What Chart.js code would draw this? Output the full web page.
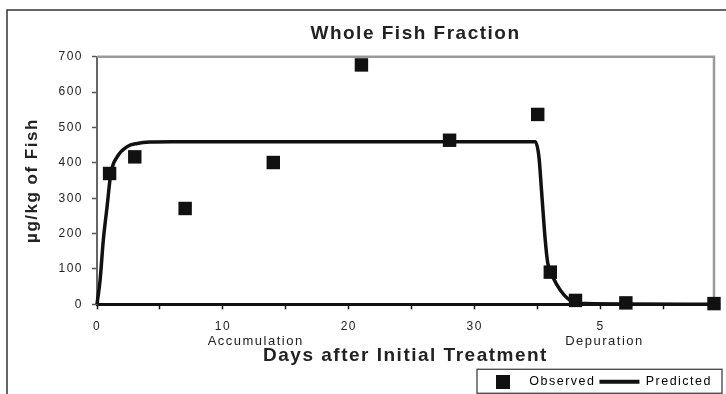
<!DOCTYPE html>
<html>
<head>
<meta charset="utf-8">
<script src="https://cdn.jsdelivr.net/npm/chart.js@4.4.0/dist/chart.umd.min.js"></script>
<style>
html, body { margin: 0; padding: 0; background: #fff; }
</style>
</head>
<body>
<canvas id="fishChart" width="726" height="394"></canvas>
<script>
// observed residues
const obsDays = [1, 3, 7, 14, 21, 28, 35, 36, 38, 42, 49];
const obsValues = [370, 417, 271, 401, 677, 464, 537, 91, 11, 4, 2];

// predicted curve
const predDays = [0, 0.25, 0.5, 0.8, 1.1, 1.6, 2.4, 3.2, 4.2, 6, 34.8, 35.1, 35.3, 35.6, 35.8, 36.2, 36.8, 37.6, 38.9, 42, 49];
const predValues = [0, 70, 181, 276, 370, 417, 446, 455, 459, 460, 460, 416, 323, 181, 116, 77, 40, 11, 2, 1, 0];

// x axis ticks and what is printed under them (day 40 = depuration day 5)
const xTicks = [0, 5, 10, 15, 20, 25, 30, 35, 40, 45];
const xTickText = ['0', '', '10', '', '20', '', '30', '', '5', ''];

// phase names under the axis
const phaseNames = ['Accumulation', 'Depuration'];
const phaseAt = [12.6, 40.3];

const FONT = "'Liberation Sans', Arial, sans-serif";
Chart.defaults.font.family = FONT;
Chart.defaults.color = '#222';

// little black square for the legend
const sq = document.createElement('canvas');
sq.width = 14; sq.height = 14;
let sctx = sq.getContext('2d');
sctx.fillStyle = '#111';
sctx.fillRect(0, 0, 14, 14);

const extras = {
    id: 'extras',
    beforeUpdate(chart) {
        chart.ctx.letterSpacing = '1.5px';
    },
    afterLayout(chart) {
        // title sits a bit right of the plot centre in the original
        chart.titleBlock.left += 10;
        chart.titleBlock.right += 10;
        // legend box a little lower / further right
        chart.legend.left += 2;
        chart.legend.right += 2;
        chart.legend.top += 4;
        chart.legend.bottom += 4;
    },
    beforeDraw(chart) {
        let ctx = chart.ctx;
        ctx.save();
        ctx.strokeStyle = '#333';
        ctx.lineWidth = 1.5;
        ctx.beginPath();
        ctx.moveTo(7, 400);
        ctx.lineTo(7, 10);
        ctx.lineTo(730, 10);
        ctx.stroke();
        ctx.restore();
    },
    beforeDatasetsDraw(chart) {
        let a = chart.chartArea;
        let ctx = chart.ctx;
        ctx.save();
        ctx.strokeStyle = '#999';
        ctx.lineWidth = 2.5;
        ctx.beginPath();
        ctx.moveTo(a.left, a.top);
        ctx.lineTo(a.right, a.top);
        ctx.lineTo(a.right, a.bottom);
        ctx.stroke();
        ctx.restore();
    },
    afterDraw(chart) {
        let ctx = chart.ctx;
        let x = chart.scales.x;
        ctx.save();
        ctx.fillStyle = '#222';
        ctx.font = '13px ' + FONT;
        ctx.textAlign = 'center';
        ctx.textBaseline = 'middle';
        phaseNames.forEach((name, i) => {
            ctx.fillText(name, x.getPixelForValue(phaseAt[i]), 341);
        });
        // box round the legend
        let hb = chart.legend.legendHitBoxes;
        if (hb.length) {
            let first = hb[0], last = hb[hb.length - 1];
            let cy = first.top + first.height / 2;
            ctx.strokeStyle = '#333';
            ctx.lineWidth = 1.2;
            ctx.strokeRect(first.left - 6, cy - 12.5, last.left + last.width + 10 - (first.left - 6), 24);
        }
        ctx.restore();
    }
};

const data = {
    datasets: [
        {
            type: 'scatter',
            label: 'Observed',
            data: obsDays.map((d, i) => ({ x: d, y: obsValues[i] })),
            pointStyle: 'rect',
            pointRadius: 9.5,
            pointHoverRadius: 9.5,
            backgroundColor: '#111',
            borderColor: '#111',
            borderWidth: 0,
            clip: false,
        },
        {
            type: 'line',
            label: 'Predicted',
            data: predDays.map((d, i) => ({ x: d, y: predValues[i] })),
            borderColor: '#111',
            borderWidth: 3.5,
            pointRadius: 0,
            cubicInterpolationMode: 'monotone',
            fill: false,
            clip: false,
        },
    ],
};

const config = {
    data: data,
    plugins: [extras],
    options: {
        responsive: false,
        animation: false,
        devicePixelRatio: 1,
        layout: { padding: { left: 12, right: 12, top: 20, bottom: 0 } },
        plugins: {
            title: {
                display: true,
                text: 'Whole Fish Fraction',
                fullSize: false,
                color: '#222',
                font: { size: 19, weight: 'bold' },
                padding: { top: 2, bottom: 12 },
            },
            legend: {
                position: 'bottom',
                align: 'end',
                labels: {
                    usePointStyle: true,
                    pointStyleWidth: 40,
                    padding: 4,
                    color: '#222',
                    font: { size: 12.5 },
                    generateLabels: () => [
                        { text: 'Observed', pointStyle: sq, fillStyle: '#111', strokeStyle: '#111', lineWidth: 0, datasetIndex: 0 },
                        { text: 'Predicted', pointStyle: 'line', fillStyle: '#111', strokeStyle: '#111', lineWidth: 4, datasetIndex: 1 },
                    ],
                },
            },
            tooltip: { enabled: false },
        },
        scales: {
            x: {
                type: 'linear',
                min: 0,
                max: 49,
                afterBuildTicks: (scale) => {
                    scale.ticks = xTicks.map((v) => ({ value: v }));
                },
                ticks: {
                    autoSkip: false,
                    maxRotation: 0,
                    padding: 10,
                    font: { size: 12 },
                    color: '#222',
                    callback: (v) => {
                        let i = xTicks.indexOf(v);
                        return i < 0 ? '' : xTickText[i];
                    },
                },
                grid: { drawOnChartArea: false, tickLength: 5, tickColor: '#111', tickWidth: 1.5 },
                border: { color: '#111', width: 3 },
                title: {
                    display: true,
                    text: 'Days after Initial Treatment',
                    color: '#222',
                    font: { size: 19, weight: 'bold' },
                    padding: { top: 1, bottom: 0 },
                },
            },
            y: {
                min: 0,
                max: 700,
                ticks: { stepSize: 100, padding: 9, font: { size: 12 }, color: '#222' },
                grid: { drawOnChartArea: false, tickLength: 5, tickColor: '#555', tickWidth: 1.5 },
                border: { color: '#666', width: 2 },
                title: {
                    display: true,
                    text: 'µg/kg of Fish',
                    color: '#222',
                    font: { size: 17, weight: 'bold' },
                    padding: { top: 10, bottom: 0 },
                },
                afterFit: (scale) => {
                    scale.width = 85;
                },
            },
        },
    },
};

const myChart = new Chart(document.getElementById('fishChart'), config);
</script>
</body>
</html>
